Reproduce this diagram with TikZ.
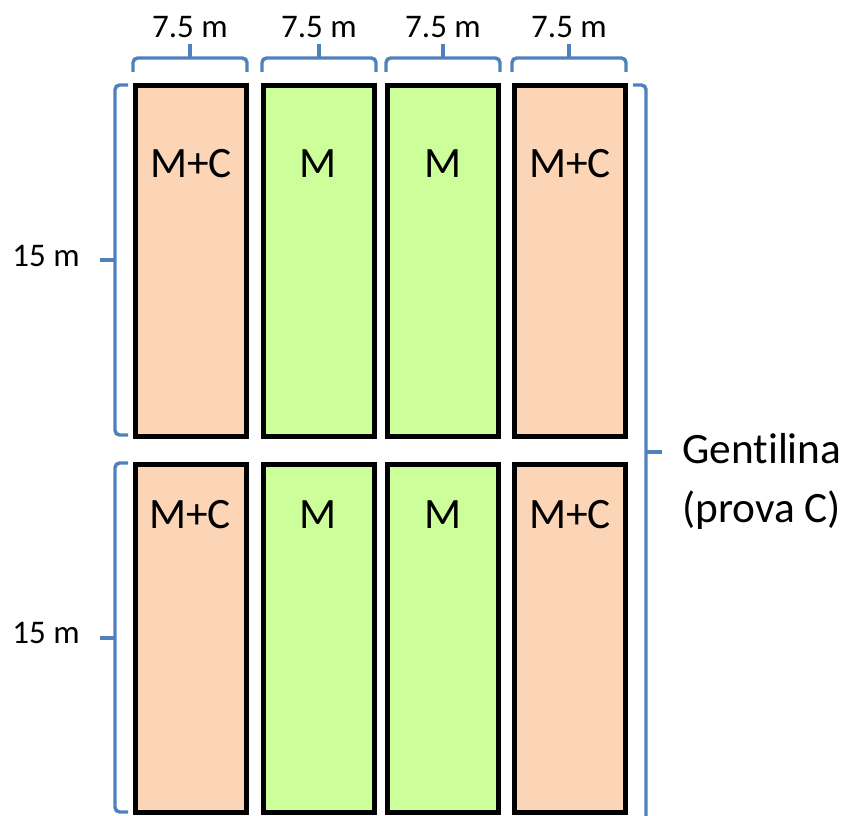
\documentclass[tikz,border=0pt]{standalone}
\usepackage{fontspec}
\setmainfont{Carlito}[Ligatures=NoCommon]
\definecolor{peach}{HTML}{FBD5B5}
\definecolor{lime}{HTML}{CCFF99}
\definecolor{bblue}{HTML}{4F81BD}
\begin{document}
\begin{tikzpicture}[x=0.75pt,y=-0.75pt,
  plot/.style={draw=black,line width=3.75pt,minimum width=83.25pt,inner sep=0pt},
  toprow/.style={plot,minimum height=262.5pt},
  botrow/.style={plot,minimum height=261.4pt},
  brace/.style={draw=bblue,line width=2.6pt,rounded corners=3.5pt},
  tick/.style={draw=bblue,line width=2.6pt},
  big/.style={font=\fontsize{32.5}{39}\selectfont,inner sep=0pt},
  small/.style={font=\fontsize{24.75}{30}\selectfont,inner sep=0pt}]
\useasboundingbox (0,0) rectangle (852,816);
\clip (0,0) rectangle (852,816);
% plots, top row
\node[toprow,fill=peach] (p11) at (191,261) {};
\node[toprow,fill=lime]  (p12) at (318.5,261) {};
\node[toprow,fill=lime]  (p13) at (443,261) {};
\node[toprow,fill=peach] (p14) at (570,261) {};
% plots, bottom row
\node[botrow,fill=peach] (p21) at (191,638.3) {};
\node[botrow,fill=lime]  (p22) at (318.5,638.3) {};
\node[botrow,fill=lime]  (p23) at (443,638.3) {};
\node[botrow,fill=peach] (p24) at (570,638.3) {};
% labels in plots
\node[big,anchor=base] (t11) at (191,178) {M+C};
\node[big,anchor=base] (t12) at (318.5,178) {M};
\node[big,anchor=base] (t13) at (443,178) {M};
\node[big,anchor=base] (t14) at (570,178) {M+C};
\node[big,anchor=base] (t21) at (190,528) {M+C};
\node[big,anchor=base] (t22) at (318.5,528) {M};
\node[big,anchor=base] (t23) at (443,528) {M};
\node[big,anchor=base] (t24) at (570,528) {M+C};
% top braces
\foreach \cx/\nm in {190/w1,319/w2,443/w3,569/w4}{
  \draw[brace] (\cx-57,72) -- (\cx-57,58) -- (\cx+57,58) -- (\cx+57,72);
  \draw[tick] (\cx,59) -- (\cx,44);
  \node[small,anchor=base] (\nm) at (\cx,38) {7.5 m};
}
% left braces
\draw[brace] (128,85) -- (115,85) -- (115,435) -- (128,435);
\draw[tick] (116,260) -- (100,260);
\node[small,anchor=base] (h1) at (46,267) {15 m};
\draw[brace] (128,463) -- (115,463) -- (115,812) -- (128,812);
\draw[tick] (116,638) -- (100,638);
\node[small,anchor=base] (h2) at (46,643) {15 m};
% right brace
\draw[brace] (633,85) -- (646,85) -- (646,830) -- (633,830);
\draw[tick] (645,452) -- (662,452);
\node[big,anchor=base west] (g1) at (682,463) {Gentilina};
\node[big,anchor=base west] (g2) at (682,522) {(prova C)};
\end{tikzpicture}
\end{document}
